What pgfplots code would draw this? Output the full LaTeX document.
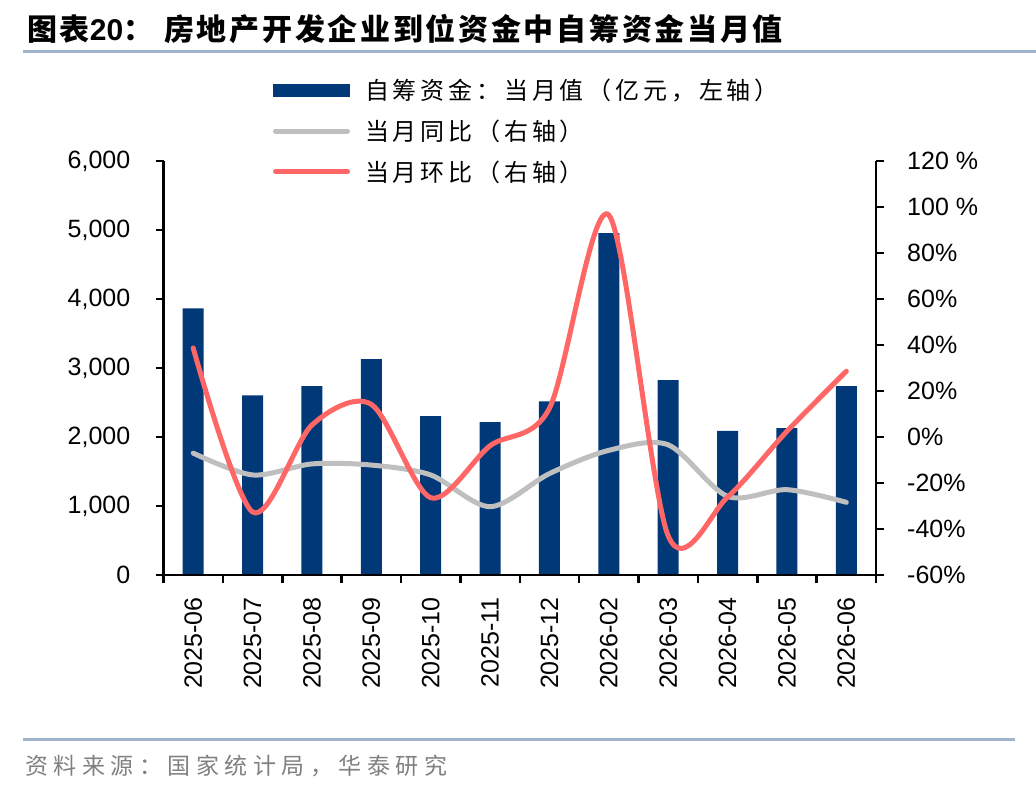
\documentclass[border=0pt]{standalone}
\usepackage{fontspec}
\setmainfont{Liberation Sans}
\newfontfamily\cjktitle[LetterSpace=9]{Noto Sans CJK SC}
\newfontfamily\cjkleg[LetterSpace=16]{Noto Sans CJK SC}
\newfontfamily\cjkfoot[LetterSpace=24]{Noto Sans CJK SC}
\usepackage{pgfplots}
\usepackage{pgfplotstable}
\pgfplotsset{compat=1.18}

\definecolor{barblue}{RGB}{0,56,120}
\definecolor{yoygray}{RGB}{191,191,191}
\definecolor{momred}{RGB}{255,102,102}
\definecolor{rulecol}{RGB}{160,180,204}
\definecolor{footgray}{RGB}{128,128,128}

\pgfplotstableread{
x val yoy mom
0 3865 -7.0 38.7
1 2605 -16.5 -32.6
2 2738 -11.7 5.2
3 3128 -12.2 14.2
4 2303 -16.5 -26.4
5 2215 -30.3 -3.8
6 2518 -15.9 12.5
7 4955 -5.8 96.5
8 2824 -3.4 -43.0
9 2088 -25.8 -26.1
10 2128 -22.9 2.5
11 2737 -28.4 28.6
}\datatable

\newcommand{\tickfont}{\fontsize{25}{30}\selectfont}

\begin{document}
\begin{tikzpicture}
\path[use as bounding box] (0,0) rectangle (1036pt,-792pt);

% title
\node[anchor=base west, inner sep=0pt, font=\fontsize{30}{36}\selectfont] at (27pt,-41pt)
  {{\cjktitle\bfseries 图表}{\bfseries 20}{\cjktitle\bfseries ：}\hspace{11pt}{\cjktitle\bfseries 房地产开发企业到位资金中自筹资金当月值}};
\draw[rulecol, line width=3pt] (23pt,-51.5pt) -- (1036pt,-51.5pt);

% footer
\draw[rulecol, line width=3pt] (23pt,-739pt) -- (1015pt,-739pt);
\node[anchor=base west, inner sep=0pt, text=footgray, font=\fontsize{23}{28}\selectfont] at (25pt,-774pt)
  {\cjkfoot 资料来源：国家统计局，华泰研究};

\begin{axis}[
  at={(163.5pt,-575pt)}, anchor=south west,
  scale only axis, width=712.5pt, height=414pt,
  xmin=-0.5, xmax=11.5, ymin=0, ymax=6000,
  axis x line*=bottom, axis y line*=left,
  axis line style={line width=2.5pt, -},
  tick align=outside, major tick length=8pt,
  tick style={line width=2.5pt, black},
  xtick={0,...,11},
  xticklabels={2025-06,2025-07,2025-08,2025-09,2025-10,2025-11,2025-12,2026-02,2026-03,2026-04,2026-05,2026-06},
  xtick style={draw=none},
  xticklabel style={rotate=90, anchor=east, inner sep=0pt, font=\tickfont},
  xticklabel shift=14pt,
  ytick={0,1000,2000,3000,4000,5000,6000},
  yticklabels={0,{1,000},{2,000},{3,000},{4,000},{5,000},{6,000}},
  yticklabel style={anchor=east, inner sep=0pt, font=\tickfont},
  yticklabel shift=25pt,
  clip=false,
]
\addplot[ybar, bar width=21pt, fill=barblue, draw=none] table[x=x, y=val] {\datatable};
\end{axis}

\begin{axis}[
  at={(163.5pt,-575pt)}, anchor=south west,
  scale only axis, width=712.5pt, height=414pt,
  xmin=-0.5, xmax=11.5, ymin=-60, ymax=120,
  axis x line*=bottom, axis y line*=right,
  axis line style={line width=2.5pt, -},
  tick align=outside, major tick length=8pt,
  tick style={line width=2.5pt, black},
  xtick={-0.5,0.5,...,11.5},
  xticklabels={},
  ytick={-60,-40,-20,0,20,40,60,80,100,120},
  yticklabels={-60\%,-40\%,-20\%,0\%,20\%,40\%,60\%,80\%,{100\ \%},{120\ \%}},
  yticklabel style={anchor=west, inner sep=0pt, font=\tickfont},
  yticklabel shift=23pt,
  clip=false,
  legend image code/.code={\path[draw=none, fill=none] (0pt,0pt) -- (92pt,0pt);\draw[#1, line cap=round] (2.5pt,0pt) -- (74.5pt,0pt);},
  legend style={draw=none, fill=none, at={(axis description cs:0.1537,1.197)}, anchor=north west,
    inner sep=0pt, outer sep=0pt, row sep=18.5pt,
    font=\cjkleg\fontsize{24}{28}\selectfont,
    cells={anchor=west}, nodes={inner sep=0pt}},
]
\addlegendimage{legend image code/.code={\path[draw=none, fill=none] (0pt,0pt) -- (92pt,0pt);\fill[barblue, draw=none] (0pt,-6.5pt) rectangle (77pt,6.5pt);}}
\addlegendentry{自筹资金：当月值（亿元，左轴）}
\addplot[yoygray, line width=5pt, smooth, line cap=round] table[x=x, y=yoy] {\datatable};
\addlegendentry{当月同比（右轴）}
\addplot[momred, line width=5pt, smooth, line cap=round] table[x=x, y=mom] {\datatable};
\addlegendentry{当月环比（右轴）}
\end{axis}
\end{tikzpicture}
\end{document}
